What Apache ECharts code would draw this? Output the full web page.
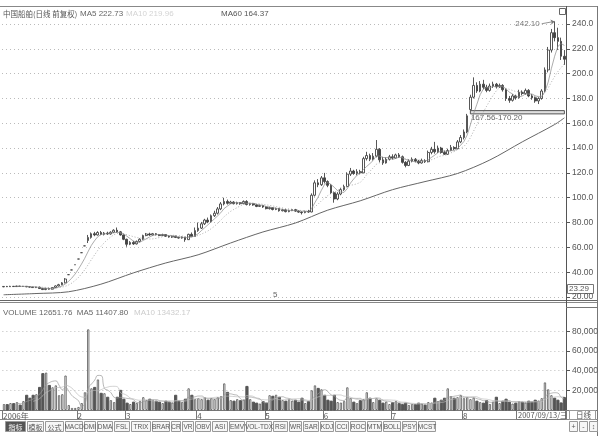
<!DOCTYPE html>
<html><head><meta charset="utf-8">
<script src="https://cdn.jsdelivr.net/npm/echarts@6/dist/echarts.min.js"></script>
<style>html,body{margin:0;padding:0;background:#fff}#c{width:603px;height:437px}</style>
</head><body><div id="c"></div>
<script>
// ---------------- DATA ----------------
const tradingDays = [
  ['2006-12', [27,28,29]],
  ['2007-01', [4,5,8,9,10,11,12,15,16,17,18,19,22,23,24,25,26,29,30,31]],
  ['2007-02', [1,2,5,6,7,8,9,12,13,14,15,16,26,27,28]],
  ['2007-03', [1,2,5,6,7,8,9,12,13,14,15,16,19,20,21,22,23,26,27,28,29,30]],
  ['2007-04', [2,3,4,5,6,9,10,11,12,13,16,17,18,19,20,23,24,25,26,27,30]],
  ['2007-05', [8,9,10,11,14,15,16,17,18,21,22,23,24,25,28,29,30,31]],
  ['2007-06', [1,4,5,6,7,8,11,12,13,14,15,18,19,20,21,22,25,26,27,28,29]],
  ['2007-07', [2,3,4,5,6,9,10,11,12,13,16,17,18,19,20,23,24,25,26,27,30,31]],
  ['2007-08', [1,2,3,6,7,8,9,10,13,14,15,16,17,20,21,22,23,24,27,28,29,30,31]],
  ['2007-09', [3,4,5,6,7,10,11,12,13]]
];
const opens = [28.2,28.5,28.3,28.6,28.4,28.8,28.5,28.6,28.2,28.0,27.6,27.9,26.8,26.0,26.9,26.3,27.6,28.9,29.9,31.4,
  38.0,41.8,46.0,50.6,55.7,61.2,65.5,
  68,71,70,72,70.5,71.5,70.8,72.2,73.8,72.5,70,66.5,62.5,64,62.8,64.8,66.5,69.5,70.8,70,71,70.2,69.5,70.3,69,68.3,69,68,67.5,68.2,66.2,70.5,68.8,73.5,
  75.5,79,82,80.5,85.5,87.5,91,95,97,95.5,96.5,95.2,96,95.2,97,94.5,95.2,94.2,93,93.8,92.5,91.2,92,90.5,91.3,89.5,90.2,88.8,89.6,90.4,89.2,88.4,88,89,
  88.5,102,112,110.5,116,113,110,104,99,103,106.5,109,119,121.5,119.5,121,120,131.5,134,131,133.5,139,130.5,128,131,133,132,134.5,133,128.5,126,129.5,131,129.5,128,130,129,136.5,139,137,140,136.5,135,138,140.5,139.5,145,148.5,153,171,181,
  190.5,186,191.5,189,186.5,190,191.5,189.5,190.5,187,180,178.5,182,180.5,185,184,186.5,182,180.5,178,180,186,203,219,233,229,226,214];
const closes = [28.5,28.3,28.6,28.4,28.8,28.5,28.6,28.2,28.0,27.6,27.9,26.8,26.0,26.9,26.3,27.6,28.9,29.9,31.4,34.5,
  38.0,41.8,46.0,50.6,55.7,61.2,68,
  71,70,72,70.5,71.5,70.8,72.2,73.8,72.5,70,66.5,62.5,64,62.8,64.8,66.5,69.5,70.8,70,71,70.2,69.5,70.3,69,68.3,69,68,67.5,68.2,66.2,70.5,68.8,73.5,75.5,
  79,82,80.5,85.5,87.5,91,95,97,95.5,96.5,95.2,96,95.2,97,94.5,95.2,94.2,93,93.8,92.5,91.2,92,90.5,91.3,89.5,90.2,88.8,89.6,90.4,89.2,88.4,88,89,88.5,
  102,112,110.5,116,113,110,104,99,103,106.5,109,119,121.5,119.5,121,120,131.5,134,131,133.5,139,130.5,128,131,133,132,134.5,133,128.5,126,129.5,131,129.5,128,130,129,136.5,139,137,140,136.5,135,138,140.5,139.5,145,148.5,153,166,181,190.5,
  186,191.5,189,186.5,190,191.5,189.5,190.5,187,180,178.5,182,180.5,185,184,186.5,182,180.5,178,180,186,203,219,233,229,226,214,211.6];
const lows = [27.9,28.0,28.1,28.1,28.2,28.2,28.2,27.9,27.6,27.3,27.2,26.5,25.6,25.5,25.9,26.0,27.3,28.5,29.5,31.0,
  38.0,41.8,46.0,50.6,55.7,61.2,63.5,
  67,69,69.5,69.8,69.6,70,70.2,71.5,71.8,69.5,65.8,60.5,61.8,62,62.3,64,66,69,69.3,69.5,69.6,69,69,68.4,67.8,67.6,67.5,67,67,64.5,66,68.3,68.5,72.5,
  74.8,78,79.5,80,84.5,86.5,90,93.8,94.5,95,94.6,94.5,94.3,94.8,93.8,93.6,93.5,92.4,92.5,91.8,90.6,90.5,89.8,90,88.8,89,88.2,88.3,89.2,88.6,87.8,86.5,87.5,87.8,
  88.3,101,108.5,109.5,111.5,108.5,103,96,98,102,105.5,108.5,117.5,118.5,118,118.8,119.8,130,129.5,130,132.5,128.5,126.5,127.5,130,130.8,131.5,132,127.5,124.5,125.5,128.5,128.5,127,127.5,128,128.5,135,135.5,136,135.5,134.5,134.5,137.5,138.5,139,144,147,152,170.2,180,
  184.5,185,187.5,185,185.5,188.5,188,188.5,185.5,178,176.5,177.5,179,180,182.5,183,181,179,176.5,175.5,179,185,201,217,226,219,211,207];
const highs = [28.8,28.9,29.0,28.9,29.1,29.0,28.9,28.8,28.4,28.2,28.3,28.4,27.2,27.3,27.5,28.0,29.4,30.6,32.0,35.2,
  38.0,41.8,46.0,50.6,55.7,61.2,70,
  72,72.5,73,73.2,72.4,72.6,73,74.6,76,73.2,70.5,67,65,65.2,65.5,67.3,70.2,71.6,71.8,71.6,71.5,70.8,71,70.6,69.6,69.5,69.4,68.6,68.8,68.5,71,72,76,80,
  80.5,83,84,86.5,89.5,92.5,96.5,100,98.5,97.5,97.2,96.8,96.5,97.8,98,95.8,95.8,94.8,94.5,94.2,93,92.8,92.4,92,91.8,91,90.8,90.3,91,91,89.8,89,89.6,90.2,
  103.5,114,115,117.5,120,114,111,105,104.5,108,110.5,120.5,124,122.5,123,122.5,133,137,135.5,136,146.5,140,133,132.5,134.5,135,135.5,136,134,129.5,131,132.5,132,130.5,131.5,131,138,141,145,142,141,138,139.5,142.5,141.5,146.5,150.5,155,167.56,183,197,
  193,194,195,191,192,193.5,192.5,192,191.5,188,182,183.5,183,187,186.5,188,187.5,183.5,181.5,181,187.5,205,221.5,236,242.1,237,229,219];
const volumes = [6000,5500,7000,6500,8000,5000,9000,15000,12000,15000,16000,23000,37000,38000,25000,23000,25000,15000,16000,35000,
  5000,2000,2000,3000,7000,18000,82000,
  22000,23000,31000,17000,17000,13000,10000,8000,13000,20000,11000,7000,6000,8000,7000,9000,13000,10000,11000,10000,9000,8000,7000,9000,8000,7500,15000,9000,8000,11000,22000,15000,11000,12000,
  11000,13000,10000,12000,11000,13000,14000,27000,18000,10000,9000,11000,9500,10500,24000,11000,8000,7000,6500,8500,7000,15000,14000,15500,13000,10000,9000,11000,9500,10000,8000,12000,7000,8500,
  20000,25000,22000,21000,15000,10000,9000,15000,8000,7500,9000,23000,12000,8000,7000,9500,11000,18000,12000,8000,12000,10000,7000,8500,6000,7500,9000,6500,5500,7000,5000,6000,5500,7000,6500,5000,8000,7500,12000,9000,10000,12000,22000,14000,12000,13000,15000,12000,13000,11000,12500,
  9000,8000,7000,9500,6000,8500,13000,7000,9000,11000,8000,6500,7000,9000,8000,7500,9000,8000,10000,9500,12000,28000,21000,15000,12000,10000,7200,12651.76];
// MA60 at selected candles
const ma60Idx = [0,10,20,30,40,50,60,70,80,90,100,110,120,130,140,150,160,170,173];
const ma60Val = [21.8,22.8,24.2,30.3,39.4,47.4,54,63.5,72.4,79.6,90,97.5,106.5,113,119.5,130.4,145,159,164.37];
const priceTicks = [20,40,60,80,100,120,140,160,180,200,220,240];
const volumeTicks = [20000,40000,60000,80000];
const tabs = ['指标','模板','公式','MACD','DMI','DMA','FSL','TRIX','BRAR','CR','VR','OBV','ASI','EMV','VOL-TDX','RSI','WR','SAR','KDJ','CCI','ROC','MTM','BOLL','PSY','MCST'];

// ---------------- BUILD ----------------
const categories = [];
tradingDays.forEach(([m, days]) => days.forEach(d => categories.push(m + '-' + String(d).padStart(2, '0'))));
const xLabel = categories.map((c, i) => {
  if (i === 0) return '2006年';
  const m = +c.slice(5, 7), pm = +categories[i - 1].slice(5, 7);
  if (m !== pm && c.startsWith('2007') && m >= 2 && m <= 8) return String(m);
  return '';
});
const candle = opens.map((o, i) => [o, closes[i], lows[i], highs[i]]);
function ma(arr, n) {
  return arr.map((v, i) => {
    if (i < n - 1) return '-';
    let s = 0; for (let k = i - n + 1; k <= i; k++) s += arr[k];
    return +(s / n).toFixed(2);
  });
}
const ma60Line = categories.map(() => null);
ma60Idx.forEach((k, j) => { ma60Line[k] = ma60Val[j]; });
const volData = volumes.map((v, i) => ({
  value: v,
  itemStyle: closes[i] >= opens[i] ? {color: '#fff', borderColor: '#555', borderWidth: 0.8} : {color: '#555', borderColor: '#555'}
}));

const TXT = '#555';
const NUMFONT = 'Liberation Sans, Arial, sans-serif';
const CJK = 'Noto Sans CJK SC, sans-serif';

const tabLeft = [5,27,45,65,84,97,114,131,152,171,182,195,212,229,246,273,289,303,320,335,350,367,383,402,418,437];
const graphics = [];
const L = (x1, y1, x2, y2, w, c, dash) => graphics.push({type: 'line', shape: {x1, y1, x2, y2}, style: {stroke: c || '#666', lineWidth: w || 1, lineDash: dash}, silent: true});
L(0, 6.5, 598, 6.5, 1, '#888');
L(0, 300.5, 598, 300.5, 1.2, '#666');
L(0, 302.5, 598, 302.5, 1, '#888');
L(566.5, 6, 566.5, 420, 1, '#555');
L(597.5, 6, 597.5, 436, 1, '#777');
L(0, 410.5, 598, 410.5, 1, '#777');
L(0, 419.5, 598, 419.5, 1, '#888');
L(566, 307.5, 598, 307.5, 1, '#777');
const T = (x, y, text, opt) => graphics.push(Object.assign({type: 'text', x, y, silent: true,
  style: Object.assign({text, fill: TXT, font: '8px ' + CJK, textVerticalAlign: 'middle'}, opt || {})}));
T(3, 14, '中国船舶(日线 前复权)', {fill: '#555', font: '7.5px ' + CJK});
T(80, 14, 'MA5 222.73', {font: '8px ' + NUMFONT, fill: '#666'});
T(126, 14, 'MA10 219.96', {font: '8px ' + NUMFONT, fill: '#d4d4d4'});
T(221, 14, 'MA60 164.37', {font: '8px ' + NUMFONT, fill: '#555'});
T(3, 313, 'VOLUME 12651.76  MA5 11407.80', {font: '8px ' + NUMFONT, fill: '#666'});
T(134, 313, 'MA10 13432.17', {font: '8px ' + NUMFONT, fill: '#ccc'});
graphics.push({type: 'rect', shape: {x: 559.5, y: 8.5, width: 6, height: 6}, style: {fill: '#fff', stroke: '#666'}, silent: true});
graphics.push({type: 'rect', shape: {x: 567.5, y: 284.5, width: 26, height: 9}, style: {fill: '#fff', stroke: '#777'}, silent: true});
T(569, 289, '23.29', {font: '8px ' + NUMFONT});
T(273, 295, '5', {font: '8px ' + NUMFONT, fill: '#666'});
graphics.push({type: 'rect', shape: {x: 516.5, y: 410.5, width: 49, height: 9}, style: {fill: '#fff', stroke: '#777'}, silent: true});
T(518, 415, '2007/09/13/三', {font: '7.5px ' + CJK});
graphics.push({type: 'rect', shape: {x: 569.5, y: 410.5, width: 26, height: 9}, style: {fill: '#fff', stroke: '#999'}, silent: true});
T(576, 415, '日线', {font: '7.5px ' + CJK});
tabs.forEach((t, i) => {
  const x = tabLeft[i], w = tabLeft[i + 1] - tabLeft[i] - 2;
  const sel = i === 0;
  graphics.push({type: 'rect', shape: {x: x + 0.5, y: 421.5, width: w, height: 10}, style: {fill: sel ? '#555' : '#f6f6f6', stroke: '#999'}, silent: true});
  graphics.push({type: 'text', x: x + w / 2 + 0.5, y: 427, silent: true,
    style: {text: t, fill: sel ? '#fff' : '#555', font: (/[\u4e00-\u9fff]/.test(t) ? '7px ' + CJK : '6.5px ' + NUMFONT), textAlign: 'center', textVerticalAlign: 'middle'}});
});
['+', '-', '↕'].forEach((t, i) => {
  graphics.push({type: 'rect', shape: {x: 569.5 + i * 10, y: 421.5, width: 8, height: 10}, style: {fill: '#f6f6f6', stroke: '#999'}, silent: true});
  graphics.push({type: 'text', x: 573.5 + i * 10, y: 427, silent: true, style: {text: t, fill: '#555', font: '7px ' + NUMFONT, textAlign: 'center', textVerticalAlign: 'middle'}});
});

const chart = echarts.init(document.getElementById('c'));
chart.setOption({
  backgroundColor: '#fff',
  animation: false,
  grid: [
    {left: 2, right: 37, top: 6, height: 294},
    {left: 2, right: 37, top: 305, height: 105}
  ],
  xAxis: [
    {type: 'category', data: categories, gridIndex: 0, boundaryGap: true, axisLine: {show: false}, axisTick: {show: false}, axisLabel: {show: false}, splitLine: {show: false}},
    {type: 'category', data: categories, gridIndex: 1, boundaryGap: true,
      axisLine: {show: false},
      axisTick: {show: true, length: 9, interval: (i) => xLabel[i] !== '', lineStyle: {color: '#777'}},
      axisLabel: {show: true, interval: (i) => xLabel[i] !== '', formatter: (v, i) => xLabel[i], color: TXT, fontSize: 8, fontFamily: CJK, align: 'left', margin: 2, padding: [0, 0, 0, -1]},
      splitLine: {show: false}}
  ],
  yAxis: [
    {type: 'value', gridIndex: 0, position: 'right', min: 17.58, max: 254.5,
      axisLine: {show: false},
      axisTick: {show: true, customValues: priceTicks, length: 4, lineStyle: {color: '#555'}},
      axisLabel: {show: true, customValues: priceTicks, color: TXT, fontSize: 8.5, fontFamily: NUMFONT, margin: 6, align: 'left',
        formatter: v => v >= 100 ? v.toFixed(1) : v.toFixed(2)},
      splitLine: {show: true, lineStyle: {color: '#bbb', type: [1, 3], width: 1}}},
    {type: 'value', gridIndex: 1, position: 'right', min: 0, max: 106800,
      axisLine: {show: false},
      axisTick: {show: true, customValues: volumeTicks, length: 4, lineStyle: {color: '#555'}},
      axisLabel: {show: true, customValues: volumeTicks, color: TXT, fontSize: 8.5, fontFamily: NUMFONT, margin: 6, align: 'left'},
      splitLine: {show: true, lineStyle: {color: '#bbb', type: [1, 3], width: 1}}}
  ],
  series: [
    {type: 'candlestick', name: 'K', xAxisIndex: 0, yAxisIndex: 0, data: candle, barWidth: 2.2, clip: false,
      itemStyle: {color: '#fff', color0: '#444', borderColor: '#444', borderColor0: '#444', borderWidth: 0.9},
      markLine: {silent: true, symbol: ['none', 'arrow'], symbolSize: 4,
        lineStyle: {color: '#777', type: 'solid', width: 0.8},
        label: {show: true, position: 'start', formatter: '242.10', color: '#777', fontSize: 8, fontFamily: NUMFONT, distance: 2},
        data: [[{coord: [166, 240.2]}, {coord: [170, 242.1]}]]},
      markArea: {silent: true,
        itemStyle: {color: 'rgba(0,0,0,0.12)', borderColor: '#555', borderWidth: 1},
        label: {show: true, position: [1, 4], formatter: '167.56-170.20', color: '#666', fontSize: 8, fontFamily: NUMFONT},
        data: [[{coord: [144, 170.2]}, {coord: [173, 167.56]}]]}},
    {type: 'line', name: 'MA5', xAxisIndex: 0, yAxisIndex: 0, data: ma(closes, 5), symbol: 'none', lineStyle: {color: '#888', width: 0.7}},
    {type: 'line', name: 'MA10', xAxisIndex: 0, yAxisIndex: 0, data: ma(closes, 10), symbol: 'none', lineStyle: {color: '#999', width: 0.8, type: [1, 2]}},
    {type: 'line', name: 'MA60', xAxisIndex: 0, yAxisIndex: 0, data: ma60Line, connectNulls: true, smooth: 0.3, symbol: 'none', lineStyle: {color: '#666', width: 1}},
    {type: 'bar', name: 'VOL', xAxisIndex: 1, yAxisIndex: 1, data: volData, barWidth: 2.2},
    {type: 'line', name: 'VMA5', xAxisIndex: 1, yAxisIndex: 1, data: ma(volumes, 5), symbol: 'none', smooth: true, lineStyle: {color: '#999', width: 0.7}},
    {type: 'line', name: 'VMA10', xAxisIndex: 1, yAxisIndex: 1, data: ma(volumes, 10), symbol: 'none', smooth: true, lineStyle: {color: '#bbb', width: 0.7}}
  ],
  graphic: graphics
});
</script></body></html>
